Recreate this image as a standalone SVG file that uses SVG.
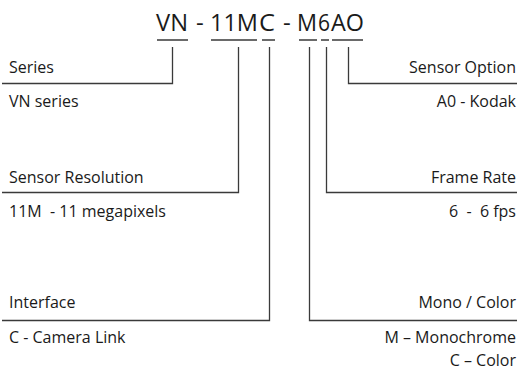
<svg xmlns="http://www.w3.org/2000/svg" width="519" height="371" viewBox="0 0 519 371">
<style>
text{font-family:"Open Sans","Noto Sans",sans-serif;fill:#1a1a1a;white-space:pre}
.t{font-size:24px}
.l{font-size:16px}
.r{text-anchor:end}
.c{fill:none;stroke:#3a3a3a;stroke-width:1.3}
</style>
<rect width="519" height="371" fill="#fff"/>
<g id="code">
<text class="t" y="31"><tspan x="156" textLength="32" lengthAdjust="spacingAndGlyphs">VN</tspan><tspan x="196">-</tspan><tspan x="210" textLength="48" lengthAdjust="spacingAndGlyphs">11M</tspan><tspan x="259" textLength="16" lengthAdjust="spacingAndGlyphs">C</tspan><tspan x="283">-</tspan><tspan x="297" textLength="20" lengthAdjust="spacingAndGlyphs">M</tspan><tspan x="318" textLength="12" lengthAdjust="spacingAndGlyphs">6</tspan><tspan x="331" textLength="33" lengthAdjust="spacingAndGlyphs">AO</tspan></text>
</g>
<g id="connectors" class="c">
<path d="M157 40H188M211 40H257M262 40H275M299 40H317M321 40H329M332 40H363"/>
<path d="M172.5 47V83.5H2"/>
<path d="M238.5 47V192.5H2"/>
<path d="M269.5 47V320.5H2"/>
<path d="M309.5 47V320.5H517"/>
<path d="M326.5 47V192.5H517"/>
<path d="M348.5 47V83.5H517"/>
</g>
<g id="series"><text class="l" x="9" y="73">Series</text><text class="l" x="9" y="107">VN series</text></g>
<g id="resolution"><text class="l" x="9" y="183">Sensor Resolution</text><text class="l" x="9" y="217">11M  - 11 megapixels</text></g>
<g id="interface"><text class="l" x="9" y="308">Interface</text><text class="l" x="9" y="343">C - Camera Link</text></g>
<g id="option"><text class="l r" x="516" y="73">Sensor Option</text><text class="l r" x="516" y="107">A0 - Kodak</text></g>
<g id="framerate"><text class="l r" x="516" y="183">Frame Rate</text><text class="l r" x="516" y="217">6  -  6 fps</text></g>
<g id="mono"><text class="l r" x="516" y="308">Mono / Color</text><text class="l r" x="516" y="343">M – Monochrome</text><text class="l r" x="516" y="366">C – Color</text></g>
</svg>
